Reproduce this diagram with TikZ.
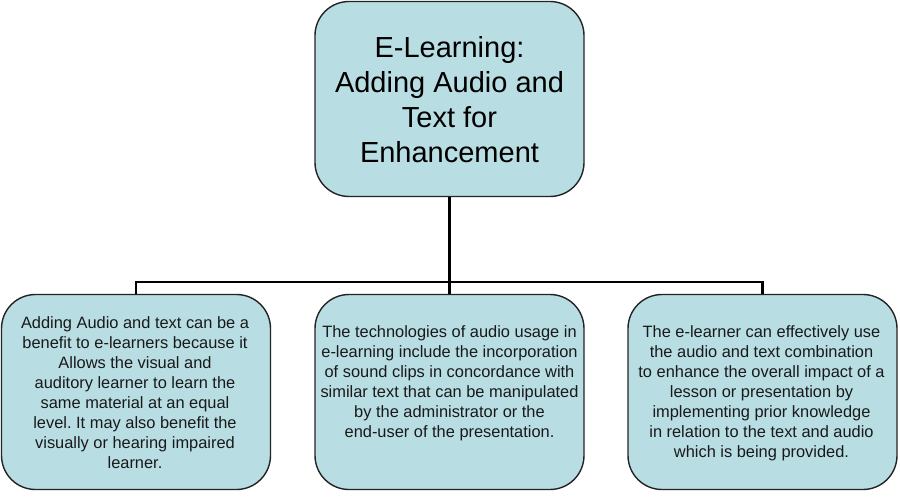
\documentclass[tikz,border=0pt]{standalone}
\usepackage{fontspec}
\setmainfont{Liberation Sans}
\frenchspacing
\definecolor{boxfill}{RGB}{184,222,228}
\definecolor{boxline}{RGB}{35,35,35}
\begin{document}
\begin{tikzpicture}[x=1pt,y=-1pt,
  card/.style={draw=boxline,line width=1.4pt,fill=boxfill,rounded corners=34pt,
    minimum width=269pt,minimum height=195pt,inner sep=0pt},
  bodytext/.style={align=center,font=\fontsize{16.4}{20}\selectfont,text=black!90},
  link/.style={line width=2.6pt,black}]
\useasboundingbox (0,0) rectangle (900,500);
\node[card] (top) at (449.5,99) {};
\node[align=center,font=\fontsize{29}{35}\selectfont] (toptxt) at (449.5,100)
  {E-Learning:\\Adding Audio and\\Text for\\Enhancement};
\node[card] (b1) at (136,392) {};
\node[card] (b2) at (449.5,392) {};
\node[card] (b3) at (762.5,392) {};
\node[bodytext] (t1) at (135,393) {Adding Audio and text can be a\\benefit to e-learners because it\\Allows the visual and\\auditory learner to learn the\\same material at an equal\\level. It may also benefit the\\visually or hearing impaired\\learner.};
\node[bodytext] (t2) at (449.5,383) {The technologies of audio usage in\\e-learning include the incorporation\\of sound clips in concordance with\\similar text that can be manipulated\\by the administrator or the\\end-user of the presentation.};
\node[bodytext] (t3) at (761.5,393) {The e-learner can effectively use\\the audio and text combination\\to enhance the overall impact of a\\lesson or presentation by\\implementing prior knowledge\\in relation to the text and audio\\which is being provided.};
\coordinate (hub) at (449.5,282);
\draw[link] (top.south) -- (hub);
\draw[link] (b1.north) |- (hub) -| (b3.north);
\draw[link] (hub) -- (b2.north);
\end{tikzpicture}
\end{document}
